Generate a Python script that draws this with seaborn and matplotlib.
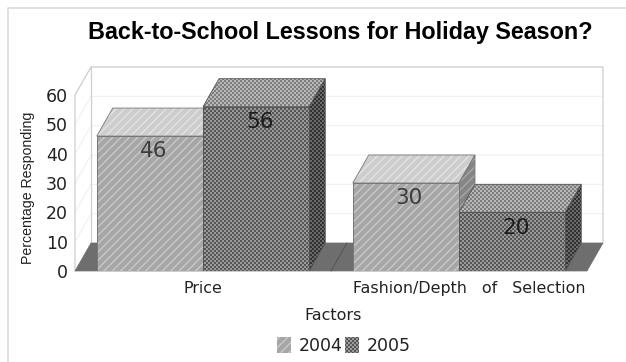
import numpy as np
import pandas as pd
import matplotlib
matplotlib.use("Agg")
import matplotlib.pyplot as plt
import matplotlib.hatch as mhatch
from matplotlib.lines import Line2D
from matplotlib.patches import Patch, Polygon, Rectangle
from matplotlib.path import Path
from matplotlib.transforms import ScaledTranslation
import seaborn as sns

TITLE = "Back-to-School Lessons for Holiday Season?"
FACTORS = ["Price", "Fashion/Depth of Selection"]
FACTOR_LABELS = ["Price", "Fashion/Depth   of   Selection"]
YEARS = ["2004", "2005"]
VALUES_2004 = [46, 30]
VALUES_2005 = [56, 20]
Y_TICKS = [0, 10, 20, 30, 40, 50, 60]


class CheckerHatch(mhatch.HatchPatternBase):
    """Axis-aligned checkerboard texture, selected with the '.' hatch."""
    cells = 50
    half = 0.0035

    def __init__(self, hatch, density):
        self.num_vertices = (self.cells ** 2 // 2) * 5 if hatch.count(".") else 0

    def set_vertices_and_codes(self, vertices, codes):
        c = 1.0 / self.cells
        k = 0
        for i in range(self.cells):
            for j in range(self.cells):
                if (i + j) % 2:
                    continue
                cx, cy = (i + .5) * c, (j + .5) * c
                h = self.half
                vertices[k:k + 5] = [(cx - h, cy - h), (cx + h, cy - h), (cx + h, cy + h),
                                     (cx - h, cy + h), (cx - h, cy - h)]
                codes[k:k + 5] = [Path.MOVETO, Path.LINETO, Path.LINETO, Path.LINETO, Path.CLOSEPOLY]
                k += 5


mhatch._hatch_types = [CheckerHatch if t is mhatch.SmallFilledCircles else t
                       for t in mhatch._hatch_types]

sns.set_theme(style="white")
plt.rcParams["hatch.linewidth"] = 1.0
plt.rcParams["font.family"] = ["DejaVu Sans"]

W, H, DPI = 626, 362, 100
DX, DY = 0.0625, 9.55   # 3-D depth in data units

fig = plt.figure(figsize=(W / DPI, H / DPI), dpi=DPI, facecolor="white")
ax = fig.add_axes([75 / W, 1 - 271 / H, 512 / W, 176 / H])

df = pd.DataFrame({
    "factor": FACTORS * 2,
    "year": [YEARS[0]] * 2 + [YEARS[1]] * 2,
    "value": VALUES_2004 + VALUES_2005,
})
sns.barplot(data=df, x="factor", y="value", hue="year", hue_order=YEARS,
            width=0.83, gap=0, legend=False, ax=ax, errorbar=None)
ax.set_xlim(-0.5, 1.5)
ax.set_ylim(0, 60)

STYLE = {
    "2004": dict(hatch="////", front=("#a6a6a6", "#c9c9c9"), top=("#cdcdcd", "#e3e3e3"),
                 side=("#858585", "#a8a8a8"), edge="#777777", text="#3c3c3c"),
    "2005": dict(hatch=".", front=("#505050", "#9a9a9a"), top=("#787878", "#b8b8b8"),
                 side=("#2c2c2c", "#6a6a6a"), edge="#555555", text="#1c1c1c"),
}

# walls and floor
x0, x1 = ax.get_xlim()
y0, y1 = ax.get_ylim()
wall = "#cfcfcf"
for t in Y_TICKS[1:]:
    ax.plot([x0, x0 + DX, x1 + DX], [t, t + DY, t + DY], color="#f0f0f0", lw=0.8, zorder=1, clip_on=False)
ax.plot([x0, x0, x0 + DX, x1 + DX, x1 + DX], [y0, y1, y1 + DY, y1 + DY, y0 + DY],
        color=wall, lw=0.9, zorder=1.2, clip_on=False)
ax.plot([x0 + DX, x0 + DX], [y0 + DY, y1 + DY], color=wall, lw=0.9, zorder=1.2, clip_on=False)
ax.add_patch(Polygon([(x0, y0), (x1, y0), (x1 + DX, y0 + DY), (x0 + DX, y0 + DY)],
                     facecolor="#6e6e6e", edgecolor="#6e6e6e", lw=0.5, zorder=1.5, clip_on=False))
ax.plot([0.5, 0.5 + DX], [y0, y0 + DY], color="#555555", lw=0.7, zorder=1.6, clip_on=False)

for i, (year, container) in enumerate(zip(YEARS, ax.containers)):
    st = STYLE[year]
    z = 3 + 2 * i
    for bar in container:
        x, w, h = bar.get_x(), bar.get_width(), bar.get_height()
        side = [(x + w, 0), (x + w + DX, DY), (x + w + DX, h + DY), (x + w, h)]
        top = [(x, h), (x + w, h), (x + w + DX, h + DY), (x + DX, h + DY)]
        ax.add_patch(Polygon(side, facecolor=st["side"][0], edgecolor=st["side"][1], hatch=st["hatch"],
                             lw=0, zorder=z, clip_on=False))
        ax.add_patch(Polygon(top, facecolor=st["top"][0], edgecolor=st["top"][1], hatch=st["hatch"],
                             lw=0, zorder=z, clip_on=False))
        ax.add_patch(Polygon(side, fill=False, edgecolor=st["edge"], lw=0.6, zorder=z + .5, clip_on=False))
        ax.add_patch(Polygon(top, fill=False, edgecolor=st["edge"], lw=0.6, zorder=z + .5, clip_on=False))
        bar.set(facecolor=st["front"][0], edgecolor=st["front"][1], hatch=st["hatch"],
                linewidth=0, zorder=z + 1)
        ax.add_patch(Rectangle((x, 0), w, h, fill=False, edgecolor=st["edge"], lw=0.7, zorder=z + 1.2))
        ax.annotate(f"{h:.0f}", (x + w / 2, h), xytext=(2.5, -11), textcoords="offset points",
                    ha="center", va="center", fontsize=15.5, color=st["text"], zorder=z + 1.5,
                    annotation_clip=False)

for s in ax.spines.values():
    s.set_visible(False)
ax.grid(False)
ax.set_yticks(Y_TICKS)
ax.tick_params(axis="y", length=0, pad=5, labelsize=12.5, labelcolor="#222222")
ax.set_xticks([0, 1])
ax.set_xticklabels(FACTOR_LABELS, fontsize=11.4, color="#222222")
ax.tick_params(axis="x", length=0, pad=7)
shift = ScaledTranslation(10 / DPI, 0, fig.dpi_scale_trans)
ax.get_xticklabels()[1].set_transform(ax.get_xticklabels()[1].get_transform() + shift)
ax.set_ylabel("")
ax.set_xlabel("")

fig.text(28 / W, 1 - 188 / H, "Percentage Responding", rotation=90, ha="center", va="center",
         family="Liberation Sans", fontsize=10.2, color="#222222")
fig.text(333 / W, 1 - 316 / H, "Factors", ha="center", va="center", fontsize=11.5, color="#222222")
fig.text(340 / W, 1 - 33 / H, TITLE, ha="center", va="center", family="Liberation Sans",
         fontweight="bold", fontsize=16.8, color="black")

handles = [Patch(facecolor=STYLE[y]["front"][0], edgecolor=STYLE[y]["front"][1], hatch=STYLE[y]["hatch"],
                 linewidth=0, label=y) for y in YEARS]
fig.legend(handles=handles, loc="center", bbox_to_anchor=(344 / W, 1 - 346 / H), ncol=2, frameon=False,
           fontsize=12.5, handlelength=0.8, handleheight=1.0, handletextpad=0.45, columnspacing=0.1,
           labelcolor="#222222", borderpad=0, borderaxespad=0)

# faint page frame at the top and left
fig.add_artist(Line2D([7.5 / W, 7.5 / W, 1], [0, 1 - 7.5 / H, 1 - 7.5 / H], color="#dcdcdc", lw=1.2))

fig.savefig("out.png", dpi=DPI)
